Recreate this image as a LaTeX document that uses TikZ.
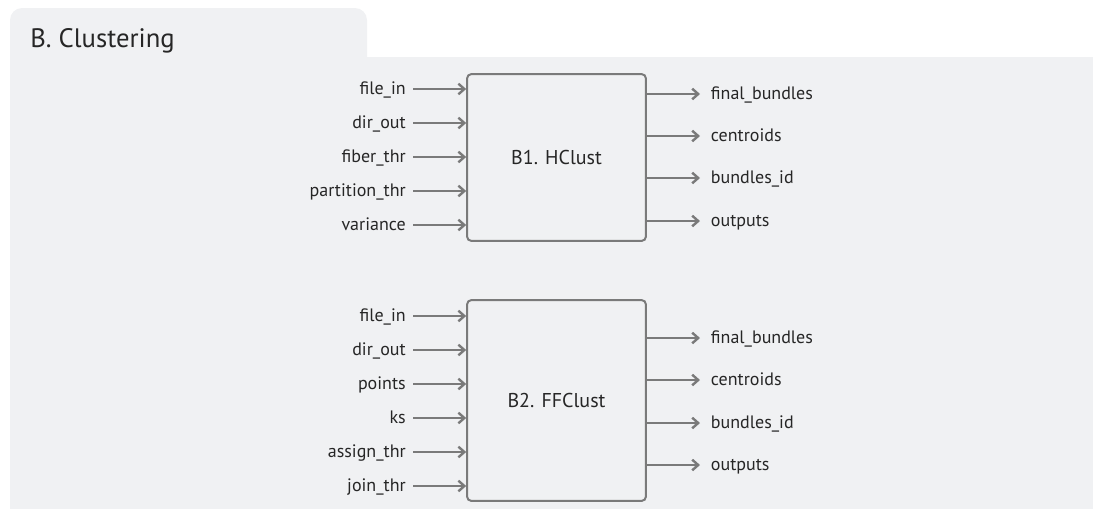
\documentclass[tikz,border=0pt]{standalone}
\usepackage{fontspec}
\setmainfont{PT Sans}
\usetikzlibrary{arrows.meta}

\definecolor{panelgray}{HTML}{F0F1F3}
\definecolor{linegray}{HTML}{7A7A7A}
\definecolor{textgray}{HTML}{262626}

\tikzset{
	port/.style={font=\fontsize{13.5}{16}\selectfont, text=textgray,
		inner xsep=5.25pt, inner ysep=0pt, text height=10pt, text depth=2pt},
	inport/.style={port, anchor=east},
	outport/.style={port, anchor=west, inner xsep=8pt},
	arr/.style={line width=1.6pt, draw=linegray,
		-{Straight Barb[length=4.5pt,width=8pt,line width=1.8pt]}},
	block/.style={draw=linegray, line width=1.5pt, rounded corners=3pt,
		fill=panelgray, minimum width=134pt, text=textgray,
		font=\fontsize{15}{18}\selectfont},
}

\begin{document}
\begin{tikzpicture}[x=0.75pt, y=-0.75pt]

\path [use as bounding box] (0,0) rectangle (1093,508);

% PANEL
\fill [panelgray, rounded corners=9pt] (10,8) rectangle (367,120);
\fill [panelgray] (10,57) rectangle (1093,520);
\node [anchor=base west, inner sep=0pt, text=textgray,
	font=\fontsize{20}{24}\selectfont] (title) at (30,47) {B. Clustering};

% BLOCKS
\node [block, minimum height=125pt] (hclust) at (556.5,157.5) {B1. HClust};
\node [block, minimum height=150.5pt] (ffclust) at (556.5,400.5) {B2. FFClust};

% HCLUST PORTS
\node [inport] (h-file) at (413,89) {file\_in};
\node [inport] (h-dir) at (413,123) {dir\_out};
\node [inport] (h-fiber) at (413,157) {fiber\_thr};
\node [inport] (h-part) at (413,191) {partition\_thr};
\node [inport] (h-var) at (413,225) {variance};

\node [outport] (h-final) at (700,94) {final\_bundles};
\node [outport] (h-cent) at (700,136) {centroids};
\node [outport] (h-id) at (700,178) {bundles\_id};
\node [outport] (h-out) at (700,221) {outputs};

\draw [arr] (h-file.east) -- (h-file -| hclust.west);
\draw [arr] (h-dir.east) -- (h-dir -| hclust.west);
\draw [arr] (h-fiber.east) -- (h-fiber -| hclust.west);
\draw [arr] (h-part.east) -- (h-part -| hclust.west);
\draw [arr] (h-var.east) -- (h-var -| hclust.west);

\draw [arr] (hclust.east |- h-final) -- (h-final.west);
\draw [arr] (hclust.east |- h-cent) -- (h-cent.west);
\draw [arr] (hclust.east |- h-id) -- (h-id.west);
\draw [arr] (hclust.east |- h-out) -- (h-out.west);

% FFCLUST PORTS
\node [inport] (f-file) at (413,316) {file\_in};
\node [inport] (f-dir) at (413,350) {dir\_out};
\node [inport] (f-points) at (413,384) {points};
\node [inport] (f-ks) at (413,418) {ks};
\node [inport] (f-assign) at (413,452) {assign\_thr};
\node [inport] (f-join) at (413,486) {join\_thr};

\node [outport] (f-final) at (700,338) {final\_bundles};
\node [outport] (f-cent) at (700,380) {centroids};
\node [outport] (f-id) at (700,423) {bundles\_id};
\node [outport] (f-out) at (700,465) {outputs};

\draw [arr] (f-file.east) -- (f-file -| ffclust.west);
\draw [arr] (f-dir.east) -- (f-dir -| ffclust.west);
\draw [arr] (f-points.east) -- (f-points -| ffclust.west);
\draw [arr] (f-ks.east) -- (f-ks -| ffclust.west);
\draw [arr] (f-assign.east) -- (f-assign -| ffclust.west);
\draw [arr] (f-join.east) -- (f-join -| ffclust.west);

\draw [arr] (ffclust.east |- f-final) -- (f-final.west);
\draw [arr] (ffclust.east |- f-cent) -- (f-cent.west);
\draw [arr] (ffclust.east |- f-id) -- (f-id.west);
\draw [arr] (ffclust.east |- f-out) -- (f-out.west);

\end{tikzpicture}
\end{document}
